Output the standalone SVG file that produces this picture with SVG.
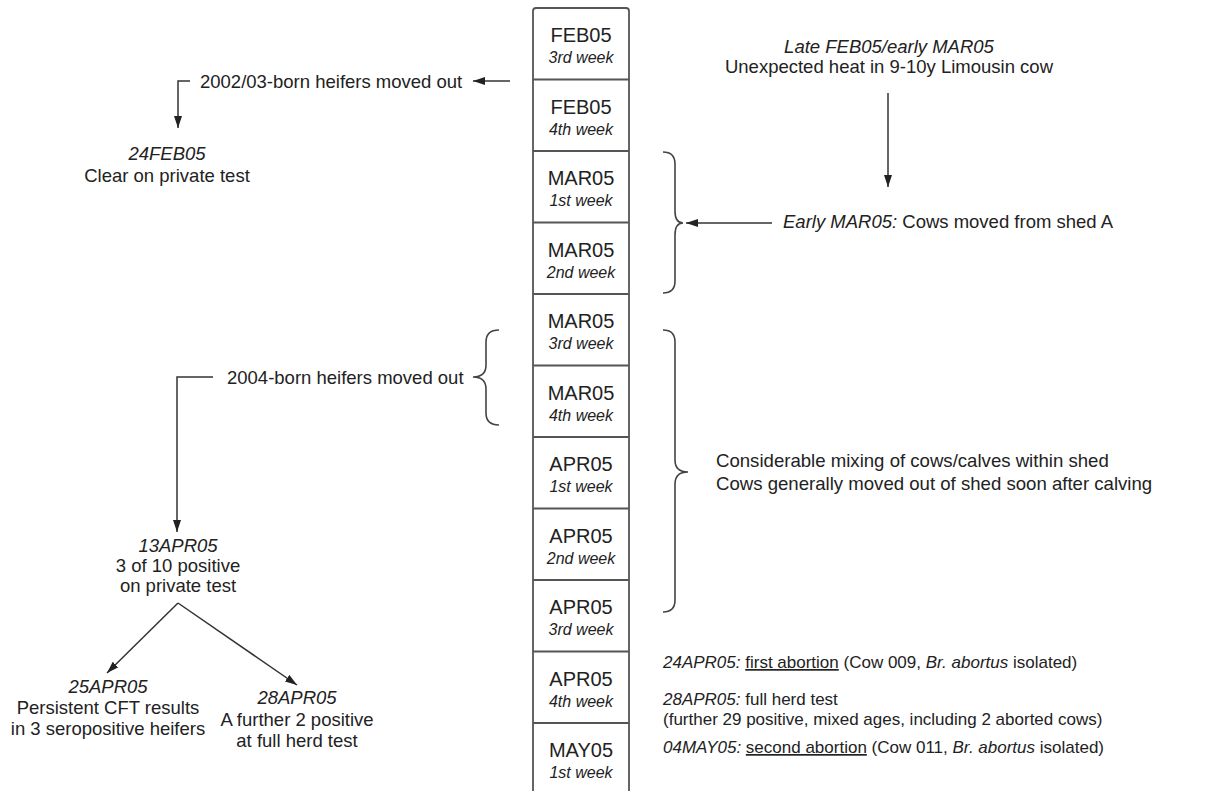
<svg xmlns="http://www.w3.org/2000/svg" width="1219" height="791" viewBox="0 0 1219 791">
<style>
text{font-family:"Liberation Sans",Arial,sans-serif;fill:#222}
.m{font-size:20px;text-anchor:middle}
.w{font-size:16px;font-style:italic;text-anchor:middle}
.t{font-size:18.5px}
.c{text-anchor:middle}
.r{font-size:18.6px}
.s{font-size:17px}
.i{font-style:italic}
.u{text-decoration:underline}
.cell{fill:none;stroke:#555;stroke-width:1.8}
.ln{fill:none;stroke:#333;stroke-width:1.5}
.br{fill:none;stroke:#444;stroke-width:1.6}
</style>
<defs>
<marker id="ah" viewBox="0 0 12 8" refX="12" refY="4" markerWidth="12" markerHeight="8" markerUnits="userSpaceOnUse" orient="auto">
<path d="M0,0 L12,4 L0,8 z" fill="#222"/>
</marker>
</defs>
<rect x="0" y="0" width="1219" height="791" fill="#fff"/>

<g id="timeline">
<rect class="cell" x="533" y="8" width="96" height="800" rx="3"/>
<path class="cell" d="M533,79.5H629M533,151H629M533,222.5H629M533,294H629M533,365.5H629M533,437H629M533,508.5H629M533,580H629M533,651.5H629M533,723H629"/>
</g>
<g id="cell-feb05-w3"><text class="m" x="581" y="42">FEB05</text><text class="w" x="581" y="63">3rd week</text></g>
<g id="cell-feb05-w4"><text class="m" x="581" y="113.5">FEB05</text><text class="w" x="581" y="134.5">4th week</text></g>
<g id="cell-mar05-w1"><text class="m" x="581" y="185">MAR05</text><text class="w" x="581" y="206">1st week</text></g>
<g id="cell-mar05-w2"><text class="m" x="581" y="256.5">MAR05</text><text class="w" x="581" y="277.5">2nd week</text></g>
<g id="cell-mar05-w3"><text class="m" x="581" y="328">MAR05</text><text class="w" x="581" y="349">3rd week</text></g>
<g id="cell-mar05-w4"><text class="m" x="581" y="399.5">MAR05</text><text class="w" x="581" y="420.5">4th week</text></g>
<g id="cell-apr05-w1"><text class="m" x="581" y="471">APR05</text><text class="w" x="581" y="492">1st week</text></g>
<g id="cell-apr05-w2"><text class="m" x="581" y="542.5">APR05</text><text class="w" x="581" y="563.5">2nd week</text></g>
<g id="cell-apr05-w3"><text class="m" x="581" y="614">APR05</text><text class="w" x="581" y="635">3rd week</text></g>
<g id="cell-apr05-w4"><text class="m" x="581" y="685.5">APR05</text><text class="w" x="581" y="706.5">4th week</text></g>
<g id="cell-may05-w1"><text class="m" x="581" y="757">MAY05</text><text class="w" x="581" y="778">1st week</text></g>

<g id="connectors">
<path class="ln" d="M510,81H473" marker-end="url(#ah)"/>
<path class="ln" d="M190,81H178V128" marker-end="url(#ah)"/>
<path class="ln" d="M213,377H177V532" marker-end="url(#ah)"/>
<path class="ln" d="M178,603L107,673" marker-end="url(#ah)"/>
<path class="ln" d="M178,603L297,685" marker-end="url(#ah)"/>
<path class="ln" d="M888,93V187" marker-end="url(#ah)"/>
<path class="ln" d="M772,223H686" marker-end="url(#ah)"/>
<path class="br" d="M663,152Q675,152 675,164V211Q675,223 683,223Q675,223 675,235V281Q675,293 663,293"/>
<path class="br" d="M663,330Q675,330 675,342V460Q675,472 688,472Q675,472 675,484V600Q675,612 663,612"/>
<path class="br" d="M499,330Q486,330 486,342V365Q486,377 473,377Q486,377 486,389V413Q486,425 499,425"/>
</g>

<g id="heifers-0203">
<text class="t" x="200" y="88">2002/03-born heifers moved out</text>
</g>
<g id="test-24feb05">
<text class="t c i" x="167" y="160">24FEB05</text>
<text class="t c" x="167" y="182">Clear on private test</text>
</g>
<g id="heifers-2004">
<text class="t" x="227" y="384">2004-born heifers moved out</text>
</g>
<g id="test-13apr05">
<text class="t c i" x="178" y="552">13APR05</text>
<text class="t c" x="178" y="572">3 of 10 positive</text>
<text class="t c" x="178" y="592">on private test</text>
</g>
<g id="test-25apr05">
<text class="t c i" x="108" y="693">25APR05</text>
<text class="t c" x="108" y="714">Persistent CFT results</text>
<text class="t c" x="108" y="735">in 3 seropositive heifers</text>
</g>
<g id="test-28apr05">
<text class="t c i" x="297" y="704">28APR05</text>
<text class="t c" x="297" y="726">A further 2 positive</text>
<text class="t c" x="297" y="747">at full herd test</text>
</g>
<g id="heat">
<text class="t c i" x="889" y="53">Late FEB05/early MAR05</text>
<text class="t c" x="889" y="73">Unexpected heat in 9-10y Limousin cow</text>
</g>
<g id="cows-moved">
<text class="t" x="783" y="228"><tspan class="i">Early MAR05:</tspan> Cows moved from shed A</text>
</g>
<g id="mixing">
<text class="r" x="716" y="467">Considerable mixing of cows/calves within shed</text>
<text class="r" x="716" y="490">Cows generally moved out of shed soon after calving</text>
</g>
<g id="events">
<text class="s" x="663" y="668"><tspan class="i">24APR05:</tspan> <tspan class="u">first abortion</tspan> (Cow 009, <tspan class="i">Br. abortus</tspan> isolated)</text>
<text class="s" x="663" y="705"><tspan class="i">28APR05:</tspan> full herd test</text>
<text class="s" x="663" y="725">(further 29 positive, mixed ages, including 2 aborted cows)</text>
<text class="s" x="663" y="753"><tspan class="i">04MAY05:</tspan> <tspan class="u">second abortion</tspan> (Cow 011, <tspan class="i">Br. abortus</tspan> isolated)</text>
</g>
</svg>
